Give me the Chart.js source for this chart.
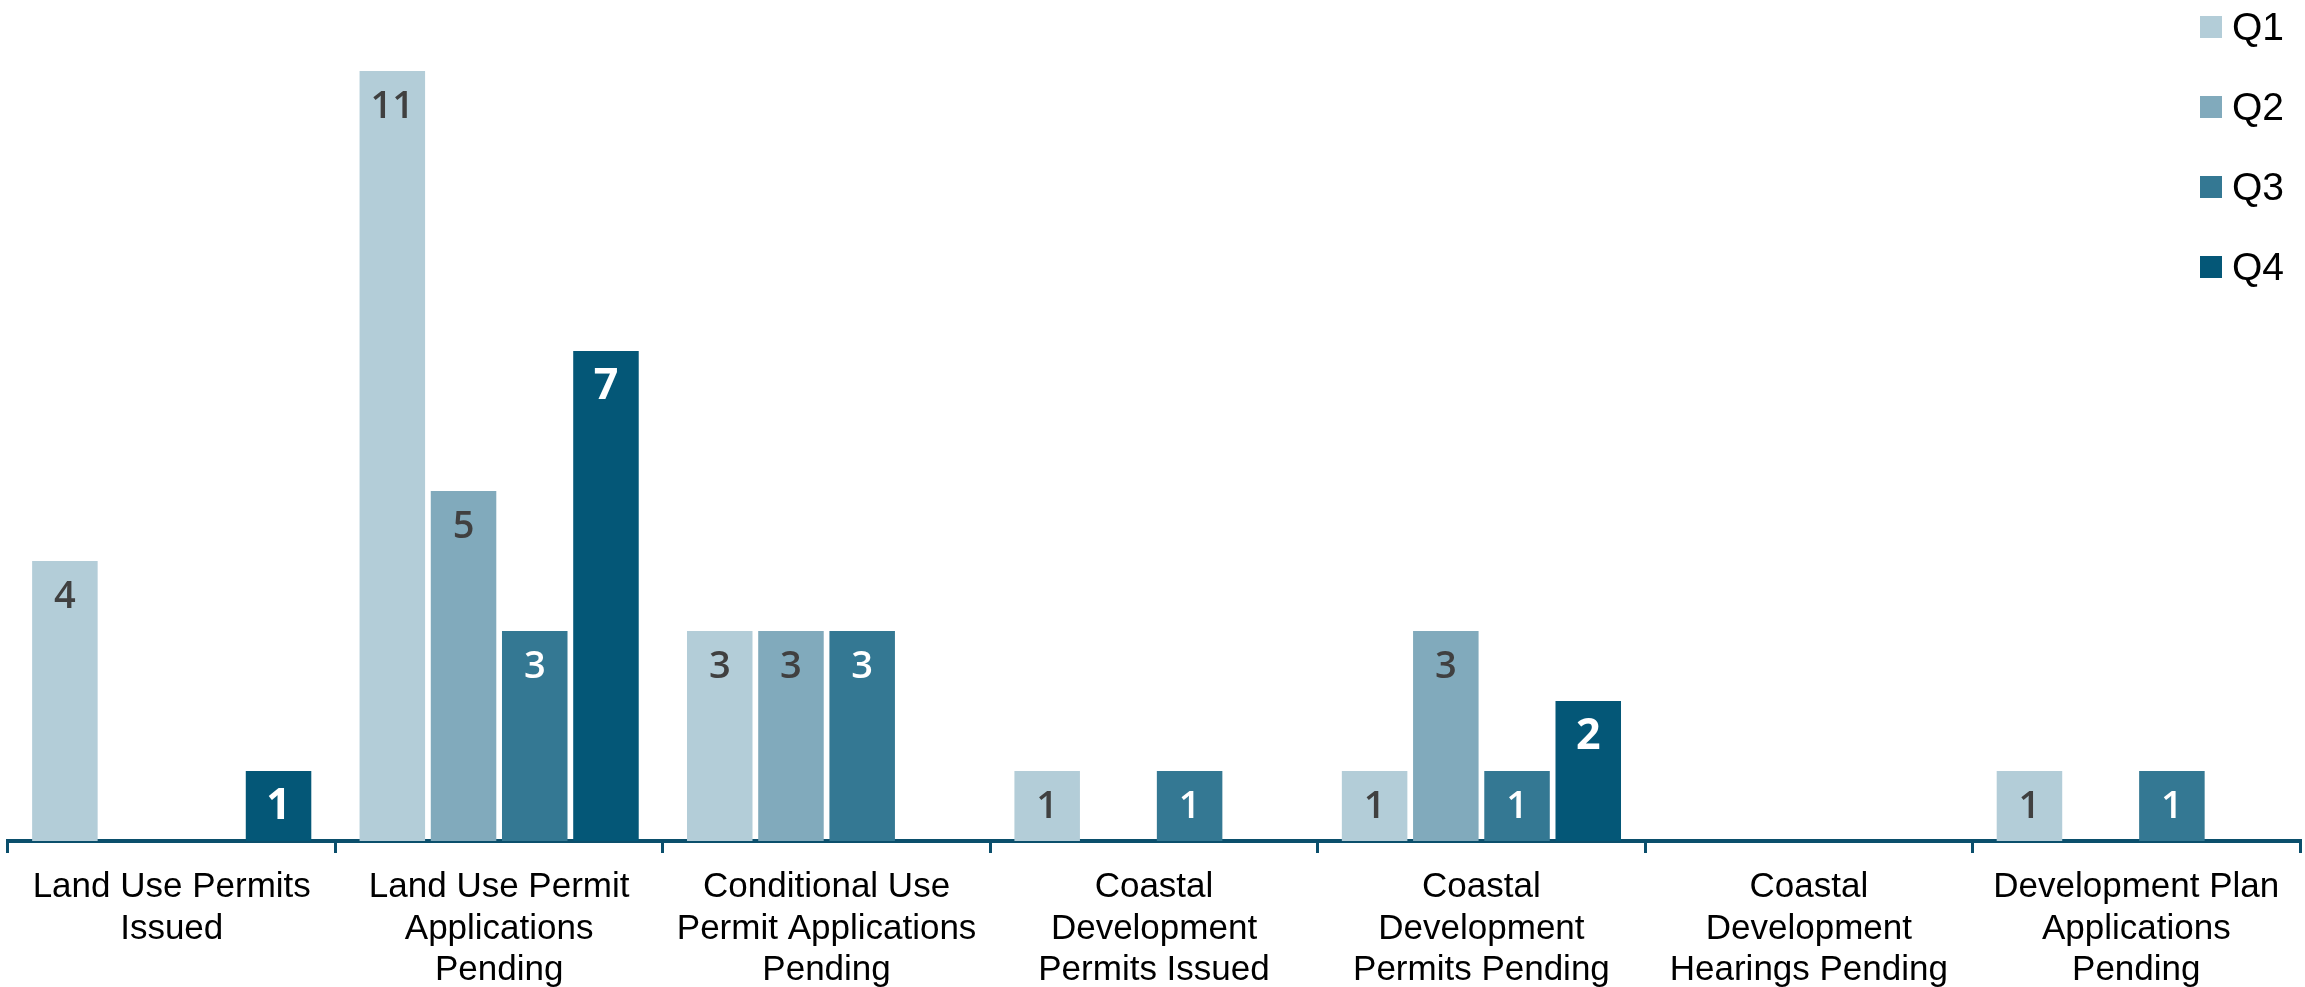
<!DOCTYPE html>
<html>
<head>
<meta charset="utf-8">
<script src="https://cdn.jsdelivr.net/npm/chart.js@4.4.1/dist/chart.umd.min.js"></script>
<style>
  html, body { margin: 0; padding: 0; background: #fff; }
  #wrap { position: relative; width: 2305px; height: 987px; overflow: hidden; }
  #legend { position: absolute; left: 2200px; top: -13px; font-family: "Liberation Sans", Arial, sans-serif; font-size: 39px; color: #000; }
  #legend div { height: 80px; display: flex; align-items: center; }
  #legend span.box { width: 22px; height: 22px; display: inline-block; margin-right: 10px; }
</style>
</head>
<body>
<div id="wrap">
  <canvas id="grafico" width="2305" height="987"></canvas>
  <div id="legend"></div>
</div>
<script>
// categorias e valores por trimestre (null = sem barra)
const categorias = [
    ['Land Use Permits', 'Issued'],
    ['Land Use Permit', 'Applications', 'Pending'],
    ['Conditional Use', 'Permit Applications', 'Pending'],
    ['Coastal', 'Development', 'Permits Issued'],
    ['Coastal', 'Development', 'Permits Pending'],
    ['Coastal', 'Development', 'Hearings Pending'],
    ['Development Plan', 'Applications', 'Pending']
];
const q1 = [4, 11, 3, 1, 1, null, 1];
const q2 = [null, 5, 3, null, 3, null, null];
const q3 = [null, 3, 3, 1, 1, null, 1];
const q4 = [1, 7, null, null, 2, null, null];
const trimestres = ['Q1', 'Q2', 'Q3', 'Q4'];
const cores = ['#b3cdd8', '#81aabc', '#347893', '#045777'];
const corTexto = ['#404040', '#404040', '#ffffff', '#ffffff'];

const eixoCor = '#0b4f6c';

// rótulos de valor dentro das barras
const rotulosPlugin = {
    id: 'rotulos',
    afterDatasetsDraw(chart) {
        const ctx = chart.ctx;
        chart.data.datasets.forEach((ds, i) => {
            const meta = chart.getDatasetMeta(i);
            meta.data.forEach((bar, j) => {
                const v = ds.data[j];
                if (v === null || v === undefined) return;
                ctx.save();
                ctx.fillStyle = corTexto[i];
                ctx.textAlign = 'center';
                ctx.textBaseline = 'middle';
                if (i === 3) {
                    ctx.font = 'bold 43px "Open Sans", sans-serif';
                } else {
                    ctx.font = '600 38px "Open Sans", sans-serif';
                }
                ctx.fillText(String(v), bar.x, bar.y + 36);
                ctx.restore();
            });
        });
    }
};

const dados = [q1, q2, q3, q4];

const grafico = new Chart(document.getElementById('grafico'), {
    type: 'bar',
    data: {
        labels: categorias,
        datasets: trimestres.map((t, i) => ({
            label: t,
            data: dados[i],
            backgroundColor: cores[i],
            borderWidth: 0,
            categoryPercentage: 0.87,
            barPercentage: 0.92
        }))
    },
    options: {
        responsive: false,
        animation: false,
        layout: { padding: { left: 8, right: 5, top: 1, bottom: 0 } },
        plugins: {
            legend: { display: false },
            tooltip: { enabled: false }
        },
        scales: {
            x: {
                afterFit: (scale) => { scale.height = 146; },
                grid: {
                    drawOnChartArea: false,
                    drawTicks: true,
                    tickLength: 12,
                    color: eixoCor,
                    lineWidth: 3
                },
                border: { color: eixoCor, width: 4 },
                ticks: {
                    color: '#000',
                    padding: 14,
                    maxRotation: 0,
                    autoSkip: false,
                    font: { family: '"Liberation Sans", Arial, sans-serif', size: 35, lineHeight: 1.18 }
                }
            },
            y: {
                display: false,
                min: 0,
                max: 12
            }
        }
    },
    plugins: [rotulosPlugin]
});

// legenda em HTML
const legenda = document.getElementById('legend');
trimestres.forEach((t, i) => {
    const item = document.createElement('div');
    item.innerHTML = '<span class="box" style="background:' + cores[i] + '"></span>' + t;
    legenda.appendChild(item);
});
</script>
</body>
</html>
